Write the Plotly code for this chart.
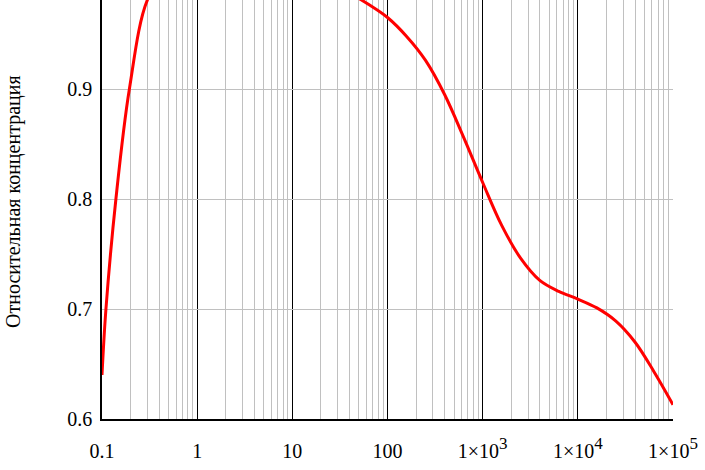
import plotly.graph_objects as go

# Data (log-scale x)
x_vals = [0.1, 0.11, 0.14, 0.194, 0.30, 0.5, 1.0, 3.16, 10.0, 25.0, 40.0, 63.0,
          100.0, 158.0, 251.0, 398.0, 631.0, 1000.0, 1585.0, 2512.0, 3981.0,
          6310.0, 10000.0, 15849.0, 25119.0, 39811.0, 63096.0, 100000.0]
y_vals = [0.640, 0.700, 0.800, 0.900, 0.981, 1.010, 1.020, 1.020, 1.010, 0.995, 0.987, 0.977,
          0.965, 0.948, 0.926, 0.895, 0.856, 0.815, 0.776, 0.746, 0.726,
          0.716, 0.709, 0.701, 0.689, 0.670, 0.643, 0.613]

x_tickvals = [0.1, 1, 10, 100, 1000, 10000, 100000]
x_ticktext = ["0.1", "1", "10", "100",
              "1×10<sup><span style='font-size:17px'>3</span></sup>",
              "1×10<sup><span style='font-size:17px'>4</span></sup>",
              "1×10<sup><span style='font-size:17px'>5</span></sup>"]
y_tickvals = [0.6, 0.7, 0.8, 0.9]
y_ticktext = ["0.6", "0.7", "0.8", "0.9"]
y_title = "Относительная концентрация"

minor_vals = [m * 10 ** e for e in range(-1, 5) for m in range(2, 10)]

FONT = "Liberation Serif, Times New Roman, serif"

fig = go.Figure()
fig.add_trace(go.Scatter(
    x=x_vals, y=y_vals, mode="lines",
    line=dict(color="#ff0000", width=3, shape="spline", smoothing=1.0),
    showlegend=False, hoverinfo="skip",
))

fig.update_layout(
    width=705, height=470,
    margin=dict(l=102, r=32, t=0, b=51, autoexpand=False),
    paper_bgcolor="white", plot_bgcolor="white",
    font=dict(family=FONT, size=20, color="black"),
    xaxis=dict(
        type="log", range=[-1, 5],
        tickmode="array", tickvals=x_tickvals, ticktext=x_ticktext,
        showgrid=True, gridcolor="black", gridwidth=1,
        showline=True, linecolor="black", linewidth=1.5,
        ticks="", ticklabelstandoff=13,
        zeroline=False,
        minor=dict(tickmode="array", tickvals=minor_vals, showgrid=True,
                   gridcolor="#c0c0c0", gridwidth=1, ticks=""),
        tickfont=dict(family=FONT, size=20),
    ),
    yaxis=dict(
        range=[0.6, 0.6 + 419 / 1100],
        tickmode="array", tickvals=y_tickvals, ticktext=y_ticktext,
        showgrid=True, gridcolor="#c0c0c0", gridwidth=1,
        showline=True, linecolor="black", linewidth=1.5,
        ticks="", ticklabelstandoff=4,
        zeroline=False,
        tickfont=dict(family=FONT, size=20),
    ),
    annotations=[dict(
        text=y_title, textangle=-90,
        xref="paper", yref="paper",
        x=-(102 - 13) / 571, y=(419 - 202) / 419,
        xanchor="center", yanchor="middle",
        showarrow=False, font=dict(family=FONT, size=20, color="black"),
    )],
)

fig.write_html("out.html", config={"displayModeBar": False},
               post_script="document.body.style.margin='0';")
